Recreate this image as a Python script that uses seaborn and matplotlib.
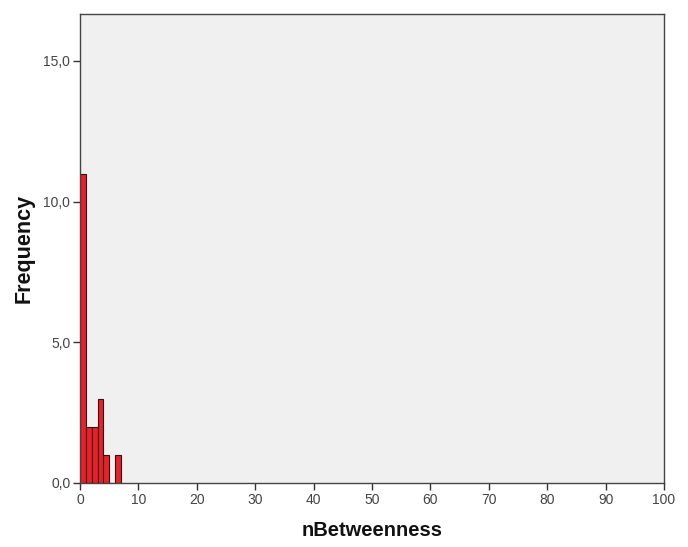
import numpy as np
import pandas as pd
import matplotlib
matplotlib.use("Agg")
import matplotlib.pyplot as plt
import seaborn as sns

bin_edges = [0, 1, 2, 3, 4, 5, 6, 7]
bin_centers = [0.5, 1.5, 2.5, 3.5, 4.5, 5.5, 6.5]
counts = [11, 2, 2, 3, 1, 0, 1]
xticks = [0, 10, 20, 30, 40, 50, 60, 70, 80, 90, 100]
yticks = [0.0, 5.0, 10.0, 15.0]
ytick_labels = ["0,0", "5,0", "10,0", "15,0"]

sns.set_theme(style="white")
plt.rcParams['font.family'] = ['Liberation Sans', 'DejaVu Sans']

fig = plt.figure(figsize=(6.88, 5.47), dpi=100)
ax = fig.add_axes([80/688, (547-483)/547, (664-80)/688, (483-14)/547])
ax.set_facecolor("#F0F0F0")

df = pd.DataFrame({"x": bin_centers, "w": counts})
sns.histplot(data=df, x="x", weights="w", bins=bin_edges, ax=ax,
             color="#E8202A", alpha=1.0, edgecolor="#3A1010", linewidth=0.8)

ax.set_xlim(0, 100)
ax.set_ylim(0, 16.67)
ax.set_xticks(xticks)
ax.set_xticklabels([str(t) for t in xticks])
ax.set_yticks(yticks)
ax.set_yticklabels(ytick_labels)
ax.tick_params(axis="both", direction="out", length=5, width=1, color="#333333",
               labelsize=10, labelcolor="#444444", bottom=True, left=True, pad=2)
for s in ax.spines.values():
    s.set_color("#444444")
    s.set_linewidth(1)
ax.set_xlabel("nBetweenness", fontsize=14.5, fontweight="bold", color="#111111", labelpad=10)
ax.set_ylabel("Frequency", fontsize=15.5, fontweight="bold", color="#111111", labelpad=6)

fig.savefig("out.png", dpi=100)
